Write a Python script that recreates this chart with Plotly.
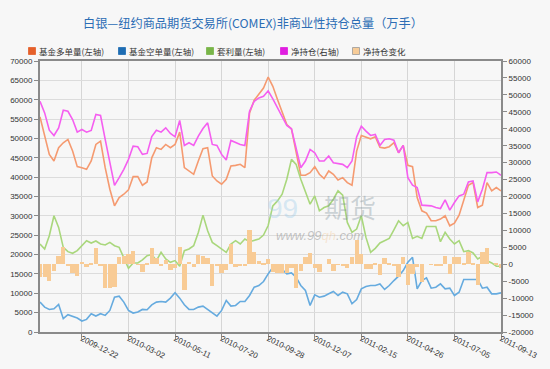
import pandas as pd
import plotly.graph_objects as go

# ---------------- data ----------------
start_date = "2009-10-20"
n_weeks = 100
dates = pd.date_range(start_date, periods=n_weeks, freq="7D")

fund_long = [
    55570, 51030, 45880, 44170, 47600, 48880, 49740, 46740, 42710, 42450,
    42020, 44170, 48450, 49310, 42450, 36880, 32590, 34730, 35590, 36700,
    40130, 40130, 37900, 38760, 45000, 47600, 47170, 48450, 47600, 48450,
    51630, 42450, 41590, 40740, 44170, 47340, 47600, 40310, 39020, 38160,
    39450, 42880, 43050, 43310, 42450, 56600, 59860, 61320, 63030, 65860,
    63460, 60030, 56600, 53600, 52490, 46740, 40480, 40480, 41160, 42710,
    40740, 39620, 41590, 40740, 39280, 39880, 38590, 37900, 46740, 50770,
    50430, 49910, 50430, 47700, 47500, 47860, 48880, 46310, 48200, 43050,
    42710, 34730, 31300, 30700, 28730, 28730, 29160, 30020, 27440, 28130,
    30190, 34300, 37900, 38590, 32160, 32760, 38590, 36450, 37300, 36450,
]
fund_short = [
    7720, 6430, 5830, 6000, 7120, 3430, 4460, 4120, 3600, 2830,
    3260, 4720, 4120, 4720, 4290, 5570, 9000, 9260, 7720, 5570,
    4890, 5150, 5830, 5750, 7000, 7720, 7890, 7720, 8750, 10120,
    8750, 7030, 5830, 5830, 6430, 6690, 5830, 4970, 4120, 5570,
    8150, 6690, 6860, 7890, 7890, 9430, 11580, 12010, 13040, 15010,
    16720, 17320, 16290, 15010, 15270, 14150, 12010, 10720, 6860, 9600,
    9000, 9260, 9860, 10460, 9430, 10290, 9860, 7290, 8400, 11150,
    11750, 12010, 12010, 12400, 11000, 12010, 13290, 14410, 15870, 18010,
    19300, 11150, 13290, 13980, 11320, 11580, 12430, 11150, 11320, 9430,
    10290, 13550, 13550, 13550, 13550, 11320, 11580, 9860, 9860, 10120,
]
spread = [
    22730, 21440, 24870, 30020, 27010, 21870, 20750, 20330, 21010, 22300,
    23580, 22980, 23500, 22730, 22470, 23150, 22300, 21870, 19300, 16470,
    17840, 17840, 18610, 19720, 20000, 18440, 20580, 18870, 18010, 18440,
    16980, 21010, 21440, 22300, 25730, 30190, 26160, 23150, 22300, 21440,
    20580, 22730, 23580, 22730, 24010, 23330, 23750, 24010, 25040, 27500,
    32590, 33870, 35590, 39450, 44590, 43310, 39450, 36450, 33020, 35160,
    31300, 32160, 32590, 34300, 36450, 35330, 28300, 25730, 26590, 30020,
    24440, 20580, 21610, 23000, 23580, 24180, 26410, 28730, 27440, 28300,
    24180, 24700, 24180, 27270, 27270, 27270, 23330, 25730, 24010, 22730,
    23580, 20750, 21010, 20410, 18870, 19550, 18440, 17840, 16980, 16980,
]
net_position = [
    48110, 44680, 39580, 38000, 40270, 45460, 45170, 42720, 39000, 39780,
    39000, 39490, 44190, 43900, 36840, 30000, 23300, 25570, 28020, 30960,
    34880, 34680, 32430, 32720, 37700, 39580, 39000, 40270, 38610, 37620,
    42430, 35080, 35860, 35080, 37820, 40070, 41740, 35370, 35080, 32430,
    30760, 36550, 35860, 35370, 35080, 45170, 48110, 49090, 49580, 51200,
    48800, 46150, 43500, 40960, 39970, 34390, 28510, 30470, 33900, 32920,
    30470, 30470, 31940, 29980, 29780, 29490, 28510, 30470, 37620, 40760,
    39290, 38020, 38310, 35080, 36840, 37040, 36640, 32920, 35080, 25570,
    23320, 22630, 17440, 17440, 17240, 16750, 16460, 19010, 15970, 18220,
    20180, 20670, 24300, 24590, 18420, 22140, 27040, 27040, 27240, 26260,
]
net_change = [
    -3900, -3800, -4800, -1900, 2500, 5100, -300, -2600, -3600, 800,
    -800, 500, 4700, -300, -6900, -7000, -6800, 2100, 2400, 3000,
    4000, -200, -2300, 300, 4700, 1900, -600, 1300, -1600, -1000,
    5000, -7500, 800, -800, 2700, 2300, 1700, -6500, -300, -2600,
    -1700, 5900, -700, -500, -300, 10000, 3500, 1000, 500, 1500,
    -2400, -2600, -2700, -2500, -1000, -7000, -2000, 2000, 3400, -1000,
    -2400, 0, 1500, -1900, -200, -300, -1000, 2000, 7100, 3100,
    -1500, -1300, 300, -3200, 1700, 200, -400, -3700, 2100, -6200,
    -3000, -700, -5200, 0, -200, -500, -300, 2500, -3000, 2200,
    2000, 500, 3600, 300, -6200, 3700, 4900, 0, 200, -1000,
]

x_tick_labels = ["2009-12-22", "2010-03-02", "2010-05-11", "2010-07-20", "2010-09-28",
                 "2010-12-07", "2011-02-15", "2011-04-26", "2011-07-05", "2011-09-13"]
left_ticks = list(range(0, 70001, 5000))
right_ticks = list(range(-20000, 60001, 5000))

series_names = ["基金多单量(左轴)", "基金空单量(左轴)", "套利量(左轴)", "净持仓(右轴)", "净持仓变化"]
title_text = "白银—纽约商品期货交易所(COMEX)非商业性持仓总量（万手）"

# ---------------- styling ----------------
W, H = 550, 369
L, R, T, B = 40, 49, 61, 37
PW, PH = W - L - R, H - T - B
BG = "#f7f7f7"
FONT = "Liberation Sans, Arial, sans-serif"
CJK = "Noto Sans CJK SC, sans-serif"

line_colors = ["#f59a70", "#66abdf", "#a9d77c", "#f55ef0"]
legend_colors = ["#e5602a", "#1e6db3", "#79b548", "#e01ee0", "#f7cc98"]
bar_color = "#f8cb95"


def px_x(px):
    return (px - L) / PW


def px_y(py):
    return (H - B - py) / PH


fig = go.Figure()

fig.add_trace(go.Bar(
    x=dates, y=net_change, yaxis="y2", name=series_names[4],
    marker=dict(color=bar_color, line=dict(width=0)),
    width=7 * 24 * 3600 * 1000 * 0.92, showlegend=False,
))
for vals, col, nm, ax in [
    (fund_long, line_colors[0], series_names[0], "y"),
    (fund_short, line_colors[1], series_names[1], "y"),
    (spread, line_colors[2], series_names[2], "y"),
    (net_position, line_colors[3], series_names[3], "y2"),
]:
    fig.add_trace(go.Scatter(
        x=dates, y=vals, yaxis=ax, name=nm, mode="lines",
        line=dict(color=col, width=1.6), showlegend=False,
    ))

annotations = []
shapes = []

# title
annotations.append(dict(
    text=title_text, x=px_x(253), y=px_y(23), xref="paper", yref="paper",
    xanchor="center", yanchor="middle", showarrow=False,
    font=dict(family=CJK, size=12.2, color="#2c6db5"),
))

# manual legend
leg_x = [32, 122, 210, 284, 356]
leg_y = 51
for lx, col, nm in zip(leg_x, legend_colors, series_names):
    shapes.append(dict(
        type="rect", xref="paper", yref="paper",
        x0=px_x(lx - 3.5), x1=px_x(lx + 3.5), y0=px_y(leg_y + 3.5), y1=px_y(leg_y - 3.5),
        fillcolor=col, line=dict(color="#999999" if col == legend_colors[4] else col, width=0.8),
    ))
    annotations.append(dict(
        text=nm, x=px_x(lx + 5), y=px_y(leg_y), xref="paper", yref="paper",
        xanchor="left", yanchor="middle", showarrow=False,
        font=dict(family=CJK, size=8.5, color="#333333"),
    ))

# watermark
annotations.append(dict(
    text="99", x=px_x(300), y=px_y(208), xref="paper", yref="paper",
    xanchor="right", showarrow=False,
    font=dict(family=FONT, size=28, color="rgba(160,205,235,0.4)"),
))
annotations.append(dict(
    text="期货", x=px_x(322), y=px_y(206), xref="paper", yref="paper",
    xanchor="left", showarrow=False,
    font=dict(family=CJK, size=26, color="rgba(120,140,150,0.35)"),
))
annotations.append(dict(
    text="<i>www.99<span style='color:rgba(240,170,90,0.55)'>qh</span>.com</i>",
    x=px_x(320), y=px_y(245), xref="paper", yref="paper",
    showarrow=False, font=dict(family=FONT, size=13, color="rgba(130,130,130,0.45)"),
))

tick_dates = pd.to_datetime(x_tick_labels)

fig.update_layout(
    width=W, height=H, autosize=False,
    margin=dict(l=L, r=R, t=T, b=B, pad=0, autoexpand=False),
    paper_bgcolor=BG, plot_bgcolor=BG,
    showlegend=False,
    bargap=0,
    annotations=annotations,
    shapes=shapes,
    xaxis=dict(
        type="date", automargin=False,
        range=[dates[0], dates[-1]],
        tickvals=tick_dates, ticktext=x_tick_labels,
        tickangle=27, ticklabelstandoff=-8,
        tickfont=dict(family=FONT, size=8, color="#333333"),
        showgrid=True, gridcolor="#d6d6d6", gridwidth=1,
        showline=True, linecolor="#8a8a8a", linewidth=2, mirror=True,
        ticks="outside", ticklen=5, tickcolor="#8a8a8a",
        zeroline=False,
    ),
    yaxis=dict(
        range=[0, 70000], automargin=False,
        tickvals=left_ticks, ticktext=[str(v) for v in left_ticks],
        tickfont=dict(family=FONT, size=8, color="#333333"),
        showgrid=True, gridcolor="#dcdcdc", gridwidth=1,
        showline=True, linecolor="#8a8a8a", linewidth=2,
        ticks="outside", ticklen=4, tickcolor="#8a8a8a",
        zeroline=False,
    ),
    yaxis2=dict(
        range=[-20000, 60000], overlaying="y", side="right", automargin=False,
        tickvals=right_ticks, ticktext=[str(v) for v in right_ticks],
        tickfont=dict(family=FONT, size=8, color="#333333"),
        showgrid=False,
        showline=True, linecolor="#8a8a8a", linewidth=2,
        ticks="outside", ticklen=4, tickcolor="#8a8a8a",
        zeroline=False,
    ),
)

fig.write_html(
    "out.html",
    config={"responsive": False, "displayModeBar": False},
    post_script="document.body.style.margin='0';document.body.style.overflow='hidden';",
)
